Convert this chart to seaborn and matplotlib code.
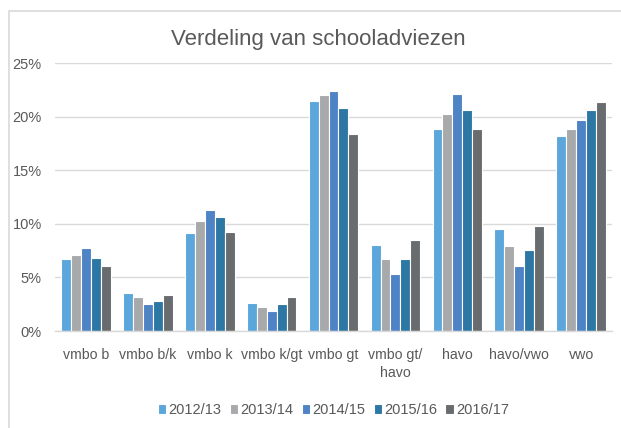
import matplotlib
matplotlib.use("Agg")
import matplotlib.pyplot as plt
import seaborn as sns
import pandas as pd
from matplotlib.patches import Rectangle
from matplotlib.ticker import FuncFormatter

categories = ["vmbo b", "vmbo b/k", "vmbo k", "vmbo k/gt", "vmbo gt",
              "vmbo gt/\nhavo", "havo", "havo/vwo", "vwo"]
years = ["2012/13", "2013/14", "2014/15", "2015/16", "2016/17"]
v2012 = [6.7, 3.5, 9.1, 2.6, 21.5, 8.0, 18.8, 9.5, 18.2]
v2013 = [7.1, 3.2, 10.3, 2.2, 22.0, 6.7, 20.2, 7.9, 18.8]
v2014 = [7.7, 2.5, 11.3, 1.9, 22.4, 5.3, 22.1, 6.1, 19.7]
v2015 = [6.8, 2.8, 10.6, 2.5, 20.8, 6.7, 20.6, 7.6, 20.6]
v2016 = [6.1, 3.4, 9.2, 3.2, 18.4, 8.5, 18.8, 9.8, 21.4]
colors = ["#5BA7DC", "#A7A9AB", "#4E83C6", "#2C77A4", "#696C6F"]

series = [v2012, v2013, v2014, v2015, v2016]
rows = []
for y, vals in zip(years, series):
    for c, v in zip(categories, vals):
        rows.append({"cat": c, "year": y, "val": v})
df = pd.DataFrame(rows)

sns.set_style("white")
plt.rcParams["font.family"] = ["Liberation Sans", "DejaVu Sans"]
txt = "#595959"

fig = plt.figure(figsize=(6.21, 4.28), dpi=100)
ax = fig.add_axes([0.0886, 0.2266, 0.897, 0.6262])

sns.barplot(data=df, x="cat", y="val", hue="year", palette=colors,
            order=categories, hue_order=years, width=0.8, saturation=1,
            edgecolor="white", linewidth=0.8, ax=ax, legend=True)

ax.set_ylim(0, 25)
ax.set_yticks([0, 5, 10, 15, 20, 25])
ax.yaxis.set_major_formatter(FuncFormatter(lambda v, p: f"{int(v)}%"))
ax.grid(axis="y", color="#D9D9D9", linewidth=1)
ax.set_axisbelow(True)
for s in ["top", "right", "left"]:
    ax.spines[s].set_visible(False)
ax.spines["bottom"].set_color("#D9D9D9")
ax.spines["bottom"].set_linewidth(1)
ax.tick_params(axis="y", length=0, labelsize=10.5, colors=txt, pad=9.5)
ax.tick_params(axis="x", length=0, labelsize=10.2, colors=txt, pad=12)
for lab in ax.get_xticklabels():
    lab.set_linespacing(1.35)
ax.set_xlabel("")
ax.set_ylabel("")

fig.text(318 / 621, 1 - 40 / 428, "Verdeling van schooladviezen", ha="center",
         va="center", fontsize=16, color=txt)

ax.legend(loc="center", bbox_to_anchor=(0.5, -0.295), ncol=5, frameon=False,
          fontsize=10.5, handlelength=0.6, handleheight=0.6, handletextpad=0.15,
          columnspacing=0.55, labelcolor=txt)

fig.patches.append(Rectangle((9 / 621, -0.1), 1.2, 1 - 11 / 428 + 0.1,
                             transform=fig.transFigure, fill=False,
                             edgecolor="#D9D9D9", linewidth=1.2))

fig.savefig("out.png", dpi=100)
